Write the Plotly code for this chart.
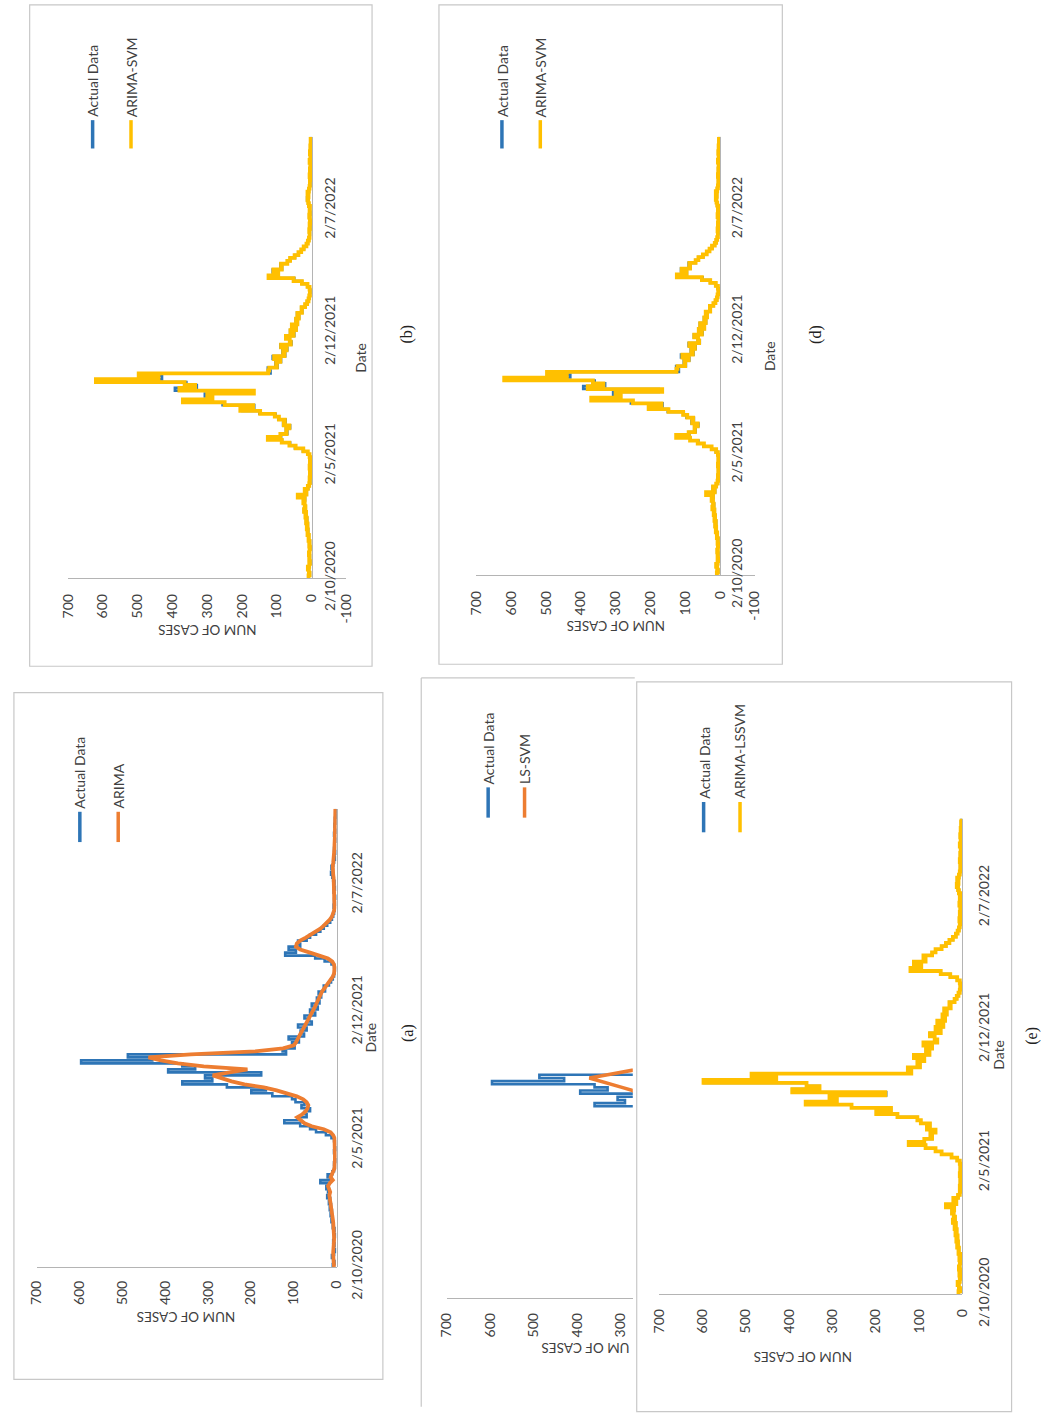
import pandas as pd
import plotly.graph_objects as go

W, H = 1055, 1427

# ---- data -------------------------------------------------------------
dates = pd.date_range("2020-10-02", periods=154, freq="5D")
date_ticks = ["2020-10-02", "2021-05-02", "2021-12-02", "2022-07-02"]
date_tick_text = ["2/10/2020", "2/5/2021", "2/12/2021", "2/7/2022"]

actual = [
    6, 9, 5, 8, 11, 6, 4, 7, 5, 8,
    6, 4, 7, 5, 9, 8, 12, 10, 14, 11,
    16, 13, 18, 15, 22, 17, 20, 24, 19, 38,
    14, 21, 10, 6, 4, 6, 3, 5, 4, 6,
    3, 5, 4, 6, 12, 25, 48, 62, 85, 122,
    88, 70, 74, 62, 82, 75, 96, 104, 150, 199,
    165, 256, 360, 290, 307, 176, 393, 330, 360, 596,
    430, 487, 118, 126, 98, 104, 88, 112, 76, 84,
    70, 90, 58, 64, 75, 50, 62, 44, 58, 40,
    46, 36, 42, 27, 30, 18, 13, 9, 6, 5,
    4, 6, 12, 28, 50, 120, 95, 112, 85, 90,
    70, 62, 48, 38, 30, 22, 15, 11, 8, 6,
    5, 7, 4, 6, 3, 5, 7, 4, 6, 5,
    8, 10, 13, 9, 12, 8, 6, 4, 5, 3,
    6, 4, 5, 3, 4, 6, 3, 4, 5, 3,
    4, 2, 3, 2,
]

arima = [
    6, 7, 7, 7, 8, 8, 7, 6, 6, 6,
    6, 6, 6, 6, 7, 8, 9, 10, 11, 12,
    13, 14, 15, 15, 17, 15, 18, 20, 16, 9,
    14, 12, 8, 5, 4, 4, 4, 4, 4, 4,
    4, 4, 4, 5, 8, 14, 30, 58, 75, 83,
    92, 80, 72, 68, 66, 70, 78, 93, 115, 140,
    170, 215, 245, 270, 289, 250, 208, 310, 370, 410,
    439, 340, 190, 125, 100, 95, 92, 88, 84, 80,
    76, 72, 68, 64, 60, 57, 54, 50, 47, 44,
    40, 37, 34, 29, 24, 18, 13, 9, 6, 5,
    5, 6, 10, 20, 38, 62, 85, 95, 93, 85,
    72, 60, 48, 38, 30, 22, 16, 11, 8, 6,
    5, 5, 5, 5, 5, 5, 5, 5, 6, 6,
    7, 8, 9, 10, 9, 8, 7, 6, 5, 5,
    5, 5, 4, 4, 4, 4, 4, 4, 4, 4,
    4, 3, 3, 3,
]

arima_svm = [
    7, 9, 6, 8, 11, 7, 5, 7, 6, 8,
    6, 5, 7, 6, 9, 8, 12, 11, 14, 12,
    16, 14, 18, 16, 22, 18, 20, 24, 20, 40,
    15, 20, 11, 7, 5, 6, 4, 5, 4, 6,
    4, 5, 4, 6, 11, 24, 46, 64, 86, 126,
    90, 72, 73, 64, 80, 77, 94, 106, 148, 205,
    168, 250, 370, 285, 300, 166, 380, 335, 365, 620,
    440, 497, 125, 122, 100, 102, 90, 108, 78, 82,
    72, 88, 60, 63, 74, 52, 61, 45, 57, 41,
    45, 37, 41, 28, 29, 19, 13, 9, 7, 5,
    5, 6, 12, 28, 52, 124, 96, 110, 86, 88,
    70, 62, 49, 38, 30, 23, 15, 11, 8, 6,
    6, 7, 5, 6, 4, 5, 7, 5, 6, 5,
    8, 10, 12, 9, 12, 8, 6, 5, 5, 4,
    6, 4, 5, 4, 4, 6, 4, 4, 5, 4,
    4, 3, 3, 3,
]

ls_svm = [
    7, 7, 7, 7, 7, 7, 7, 7, 7, 7,
    7, 7, 8, 8, 9, 10, 11, 12, 13, 14,
    15, 15, 16, 17, 17, 18, 18, 19, 19, 20,
    18, 15, 12, 9, 7, 6, 5, 5, 5, 5,
    5, 5, 6, 7, 9, 13, 22, 38, 56, 72,
    82, 84, 80, 76, 74, 75, 80, 92, 112, 138,
    165, 195, 225, 248, 255, 264, 272, 297, 322, 347,
    372, 330, 285, 240, 190, 140, 110, 95, 88, 82,
    78, 74, 70, 66, 62, 58, 55, 51, 48, 45,
    42, 38, 34, 30, 25, 20, 15, 11, 8, 6,
    6, 7, 10, 18, 32, 52, 72, 86, 90, 86,
    76, 64, 52, 42, 33, 25, 18, 13, 9, 7,
    6, 6, 6, 6, 6, 6, 6, 6, 6, 7,
    7, 8, 9, 9, 9, 8, 7, 6, 6, 5,
    5, 5, 5, 5, 5, 5, 5, 5, 5, 5,
    5, 4, 4, 4,
]

arima_lssvm = [
    6, 9, 5, 8, 11, 6, 5, 7, 5, 8,
    6, 5, 7, 5, 9, 8, 12, 10, 14, 11,
    16, 13, 18, 15, 22, 17, 20, 24, 19, 38,
    14, 21, 10, 6, 4, 6, 3, 5, 4, 6,
    3, 5, 4, 6, 12, 25, 48, 62, 85, 124,
    88, 70, 74, 62, 82, 75, 96, 104, 150, 199,
    165, 256, 362, 290, 307, 178, 393, 330, 360, 598,
    430, 487, 118, 126, 98, 104, 88, 112, 76, 84,
    70, 90, 58, 64, 75, 50, 62, 44, 58, 40,
    46, 36, 42, 27, 30, 18, 13, 9, 6, 5,
    4, 6, 12, 28, 50, 120, 95, 112, 85, 90,
    70, 62, 48, 38, 30, 22, 15, 11, 8, 6,
    5, 7, 4, 6, 3, 5, 7, 4, 6, 5,
    8, 10, 13, 9, 12, 8, 6, 4, 5, 3,
    6, 4, 5, 3, 4, 6, 3, 4, 5, 3,
    4, 2, 3, 2,
]

value_ticks = [700, 600, 500, 400, 300, 200, 100, 0]
value_ticks_neg = [700, 600, 500, 400, 300, 200, 100, 0, -100]
value_ticks_cut = [700, 600, 500, 400, 300]

# ---- styling ----------------------------------------------------------
BLUE = "#2E75B6"
ORANGE = "#ED7D31"
GOLD = "#FFC000"
AXIS = "#B4B4B4"
FRAME = "#C8C8C8"
TEXT = "#404040"
FONT = "Lato"


def fx(x):
    return x / W


def fy(y):
    return 1 - y / H


# Every panel is drawn turned a quarter turn: dates run bottom-to-top,
# case counts grow towards the left.  Observed and hybrid series are drawn
# as steps (one level per reporting period), the smoothed fits as lines.
panels = [
    dict(n=1, xdom=(28, 333), ydom=(1297, 828), xrange=[700, 0], ticks=value_ticks,
         zero=333, show_dates=True, dstand=7, vstand=7,
         series=[(actual, BLUE, 2.6, "hv"), (arima, ORANGE, 3.8, "linear")],
         legend=[(72, "Actual Data", BLUE), (111, "ARIMA", ORANGE)], leg_y=(831, 862),
         title=(180, 1348, "NUM OF CASES"), dlabel=(367, 1062), caption=(405, 1057, "(a)")),
    dict(n=2, xdom=(60, 343), ydom=(592, 140), xrange=[700, -100], ticks=value_ticks_neg,
         zero=60 + 283 * 7 / 8, show_dates=True, dstand=5, vstand=9,
         series=[(actual, BLUE, 2.6, "hv"), (arima_svm, GOLD, 3.8, "hv")],
         legend=[(85, "Actual Data", BLUE), (124, "ARIMA-SVM", GOLD)], leg_y=(123, 152),
         title=(202, 645, "NUM OF CASES"), dlabel=(357, 366), caption=(405, 342, "(b)")),
    dict(n=3, xdom=(475, 758), ydom=(589, 140), xrange=[700, -100], ticks=value_ticks_neg,
         zero=475 + 283 * 7 / 8, show_dates=True, dstand=4, vstand=9,
         series=[(actual, BLUE, 2.6, "hv"), (arima_svm, GOLD, 3.8, "hv")],
         legend=[(501, "Actual Data", BLUE), (540, "ARIMA-SVM", GOLD)], leg_y=(123, 152),
         title=(617, 641, "NUM OF CASES"), dlabel=(773, 365), caption=(820, 342, "(d)")),
    dict(n=4, xdom=(445, 634), ydom=(1329, 836), xrange=[700, 272], ticks=value_ticks_cut,
         zero=None, show_dates=False, dstand=0, vstand=8,
         series=[(actual, BLUE, 2.6, "hv"), (ls_svm, ORANGE, 3.6, "linear")],
         legend=[(487, "Actual Data", BLUE), (524, "LS-SVM", ORANGE)], leg_y=(806, 837),
         title=None, dlabel=None, caption=None),
    dict(n=5, xdom=(661, 969), ydom=(1325, 838), xrange=[700, 0], ticks=value_ticks,
         zero=969, show_dates=True, dstand=9, vstand=8,
         series=[(actual, BLUE, 2.6, "hv"), (arima_lssvm, GOLD, 3.8, "hv")],
         legend=[(706, "Actual Data", BLUE), (743, "ARIMA-LSSVM", GOLD)], leg_y=(821, 852),
         title=(807, 1389, "NUM OF CASES"), dlabel=(1005, 1080), caption=(1040, 1060, "(e)")),
]

fig = go.Figure()
shapes = []
annotations = []
layout = {}

# panel frames
for x0, y0, x1, y1 in [(5, 709, 380, 1412), (21, 5, 369, 682), (437, 5, 786, 680),
                       (638, 698, 1019, 1445)]:
    shapes.append(dict(type="rect", xref="paper", yref="paper", layer="below",
                       x0=fx(x0), x1=fx(x1), y0=fy(y1), y1=fy(y0),
                       line=dict(color=FRAME, width=1.2), fillcolor="rgba(0,0,0,0)"))
# frame of the partly hidden LS-SVM panel
shapes.append(dict(type="line", xref="paper", yref="paper", x0=fx(419), x1=fx(636),
                   y0=fy(694), y1=fy(694), line=dict(color=FRAME, width=1.2)))
shapes.append(dict(type="line", xref="paper", yref="paper", x0=fx(419), x1=fx(419),
                   y0=fy(694), y1=fy(1440), line=dict(color=FRAME, width=1.2)))

tick_font = dict(family=FONT, size=14, color=TEXT)

for p in panels:
    n = p["n"]
    xa = "xaxis" if n == 1 else f"xaxis{n}"
    ya = "yaxis" if n == 1 else f"yaxis{n}"
    layout[xa] = dict(
        domain=[fx(p["xdom"][0]), fx(p["xdom"][1])], range=p["xrange"],
        anchor=f"y{n}" if n > 1 else "y", showgrid=False, zeroline=False,
        showline=True, linecolor=AXIS, linewidth=1.3,
        tickmode="array", tickvals=p["ticks"], ticktext=[str(t) for t in p["ticks"]],
        tickangle=-90, ticks="", tickfont=tick_font, ticklabelstandoff=p["vstand"],
        fixedrange=True,
    )
    ya_cfg = dict(
        domain=[fy(p["ydom"][0]), fy(p["ydom"][1])],
        range=[dates[0], dates[-1]], type="date", showgrid=False, zeroline=False,
        fixedrange=True,
    )
    if p["show_dates"]:
        ya_cfg.update(
            anchor="free", position=fx(p["zero"]), side="right",
            showline=True, linecolor=AXIS, linewidth=1.3,
            tickmode="array", tickvals=date_ticks, ticktext=date_tick_text,
            tickangle=-90, ticks="", tickfont=tick_font, ticklabelstandoff=p["dstand"],
        )
    else:
        ya_cfg.update(anchor="x4", showline=False, showticklabels=False)
    layout[ya] = ya_cfg

    for values, color, width, shape in p["series"]:
        fig.add_trace(go.Scatter(
            x=values, y=dates, mode="lines",
            line=dict(color=color, width=width, shape=shape),
            xaxis=f"x{n}" if n > 1 else "x", yaxis=f"y{n}" if n > 1 else "y",
            showlegend=False, hoverinfo="skip",
        ))

    # legend: short line key followed by rotated label
    top, bot = p["leg_y"]
    for lx, label, color in p["legend"]:
        shapes.append(dict(type="line", xref="paper", yref="paper",
                           x0=fx(lx), x1=fx(lx), y0=fy(bot), y1=fy(top),
                           line=dict(color=color, width=3.5)))
        annotations.append(dict(text=label, x=fx(lx), y=fy(top - 1), xref="paper",
                                yref="paper", showarrow=False, textangle=-90,
                                xanchor="center", yanchor="bottom",
                                font=dict(family=FONT, size=14, color=TEXT)))

    if p["title"]:
        tx, ty, tt = p["title"]
        annotations.append(dict(text=tt, x=fx(tx), y=fy(ty), xref="paper", yref="paper",
                                showarrow=False, textangle=180,
                                xanchor="center", yanchor="middle",
                                font=dict(family=FONT, size=13.5, color=TEXT)))
    if p["dlabel"]:
        dx, dy = p["dlabel"]
        annotations.append(dict(text="Date", x=fx(dx), y=fy(dy), xref="paper",
                                yref="paper", showarrow=False, textangle=-90,
                                xanchor="center", yanchor="middle",
                                font=dict(family=FONT, size=14, color=TEXT)))
    if p["caption"]:
        cx, cy, ct = p["caption"]
        annotations.append(dict(text=ct, x=fx(cx), y=fy(cy), xref="paper", yref="paper",
                                showarrow=False, textangle=-90,
                                xanchor="center", yanchor="middle",
                                font=dict(family="Liberation Serif", size=16, color="#222")))

# axis title of the partly hidden panel, cut by the panel in front of it
annotations.append(dict(text="UM OF CASES", x=fx(633), y=fy(1380), xref="paper",
                        yref="paper", showarrow=False, textangle=180,
                        xanchor="right", yanchor="middle",
                        font=dict(family=FONT, size=13.5, color=TEXT)))

fig.update_layout(
    width=W, height=H, margin=dict(l=0, r=0, t=0, b=0),
    paper_bgcolor="white", plot_bgcolor="white",
    shapes=shapes, annotations=annotations, showlegend=False,
    **layout,
)

# the page body gets no default margin so the figure sits at the window origin
fig.write_html("out.html", config={"displayModeBar": False},
               post_script="document.body.style.margin='0';")
